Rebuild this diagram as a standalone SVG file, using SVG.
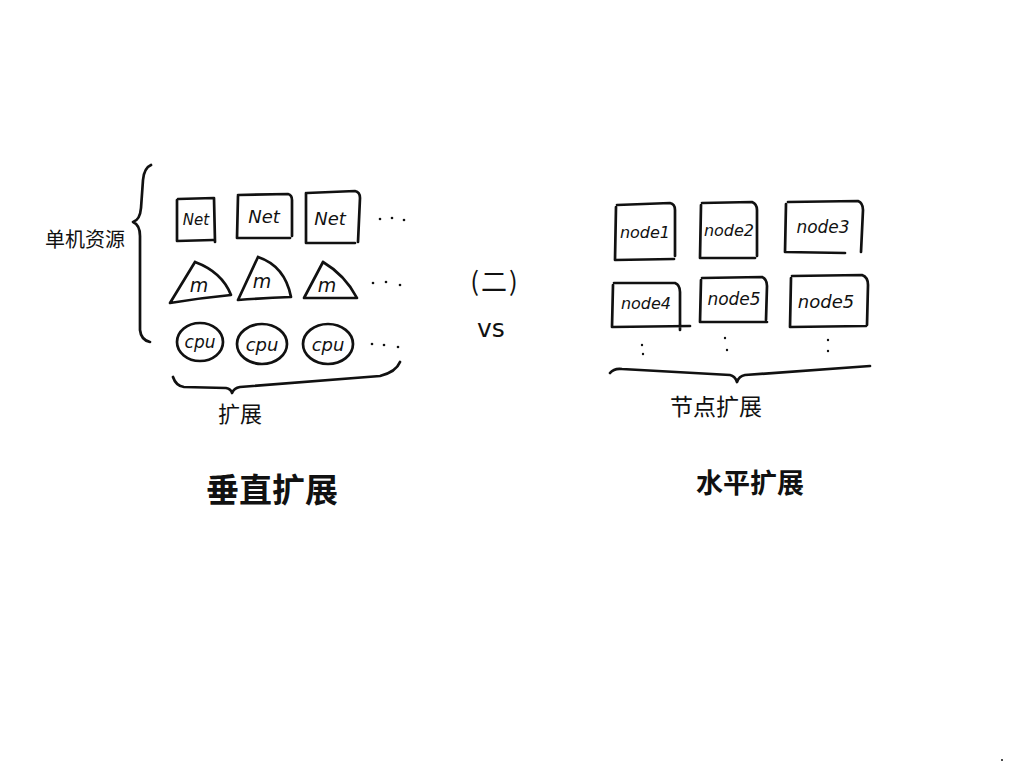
<svg xmlns="http://www.w3.org/2000/svg" width="1024" height="768" viewBox="0 0 1024 768">
<style>
.s{fill:none;stroke:#111;stroke-width:2.7;stroke-linecap:round;stroke-linejoin:round}
.t{font-family:"DejaVu Sans","Liberation Sans",sans-serif;font-style:italic;fill:#111;text-anchor:middle;dominant-baseline:central}
.u{font-family:"DejaVu Sans","Liberation Sans",sans-serif;fill:#111;text-anchor:middle;dominant-baseline:central}
.c{font-family:"Noto Sans CJK SC","Noto Sans CJK JP",sans-serif;fill:#111;text-anchor:middle;dominant-baseline:central}
.d{fill:#111}
</style>
<rect width="1024" height="768" fill="#fff"/>
<g id="braces">
<path class="s" d="M151,165 Q144,168 143,180 L141,208 Q140,220 133,222 Q140,225 140,236 L140,330 Q141,340 150,342"/>
<path class="s" d="M173,377 Q176,386 184,387 L226,388 Q231,389 232,393 Q234,388 240,387 L380,376 Q396,372 400,362"/>
<path class="s" d="M610,373 Q614,368 622,369 L730,375 Q735,376 737,382 Q739,376 745,375 L870,366"/>
</g>
<g id="label-danji"><text class="c" x="85" y="238" font-size="20">单机资源</text></g>
<g id="net1"><path class="s" d="M177,200 L177,241 L213,240 M178,199 L214,198 L215,242"/><text class="t" x="196" y="220" font-size="15">Net</text></g>
<g id="net2"><path class="s" d="M238,196 L237,238 L290,238 M238,195 L288,194 Q292,195 292,200 L292,236"/><text class="t" x="264" y="216" font-size="18">Net</text></g>
<g id="net3"><path class="s" d="M306,193 L306,243 L355,243 M307,193 L355,191 Q360,192 360,198 L358,242"/><text class="t" x="330" y="218" font-size="18">Net</text></g>
<g id="dots-net"><circle class="d" cx="380" cy="219" r="1.3"/><circle class="d" cx="392" cy="218" r="1.3"/><circle class="d" cx="404" cy="220" r="1.3"/></g>
<g id="mem1"><path class="s" d="M195,262 L170,303 Q200,298 231,295 Q222,272 195,262"/><text class="t" x="199" y="285" font-size="19">m</text></g>
<g id="mem2"><path class="s" d="M258,257 L238,300 Q265,298 291,297 Q285,266 258,257"/><text class="t" x="262" y="281" font-size="19">m</text></g>
<g id="mem3"><path class="s" d="M323,262 L304,298 L357,298 Q345,275 323,262"/><text class="t" x="327" y="285" font-size="19">m</text></g>
<g id="dots-mem"><circle class="d" cx="373" cy="283" r="1.3"/><circle class="d" cx="386" cy="282" r="1.3"/><circle class="d" cx="400" cy="285" r="1.3"/></g>
<g id="cpu1"><ellipse class="s" cx="200" cy="342" rx="23" ry="19"/><text class="t" x="200" y="342" font-size="17">cpu</text></g>
<g id="cpu2"><ellipse class="s" cx="262" cy="344" rx="25" ry="20"/><text class="t" x="262" y="344" font-size="18">cpu</text></g>
<g id="cpu3"><ellipse class="s" cx="328" cy="344" rx="25" ry="20"/><text class="t" x="328" y="344" font-size="18">cpu</text></g>
<g id="dots-cpu"><circle class="d" cx="372" cy="344" r="1.3"/><circle class="d" cx="384" cy="345" r="1.3"/><circle class="d" cx="398" cy="347" r="1.3"/></g>
<g id="label-kuozhan"><text class="c" x="240" y="412" font-size="22">扩展</text></g>
<g id="label-vs"><text class="c" x="495" y="279" font-size="26" letter-spacing="2">(二)</text><text class="u" x="491" y="328" font-size="25">vs</text></g>
<g id="node1"><path class="s" d="M616,207 L615,260 L674,259 M617,205 L670,203 Q675,204 675,210 L675,256"/><text class="t" x="645" y="232" font-size="16">node1</text></g>
<g id="node2"><path class="s" d="M701,205 L700,258 L755,258 M702,203 L752,202 Q757,204 757,210 L757,256"/><text class="t" x="729" y="230" font-size="16">node2</text></g>
<g id="node3"><path class="s" d="M786,204 L785,252 L845,253 M788,202 L858,201 Q863,203 863,210 L861,252"/><text class="t" x="823" y="227" font-size="17">node3</text></g>
<g id="node4"><path class="s" d="M613,285 L612,327 L690,326 M614,283 L675,283 Q680,285 680,292 L680,330"/><text class="t" x="646" y="303" font-size="16">node4</text></g>
<g id="node5"><path class="s" d="M701,280 L700,322 L767,322 M702,278 L762,277 Q767,279 767,286 L766,320"/><text class="t" x="734" y="299" font-size="17">node5</text></g>
<g id="node5b"><path class="s" d="M791,278 L790,327 L866,326 M792,276 L862,275 Q868,277 868,285 L867,325"/><text class="t" x="826" y="301" font-size="18">node5</text></g>
<g id="dots-nodes"><circle class="d" cx="642" cy="345" r="1.2"/><circle class="d" cx="643" cy="354" r="1.2"/><circle class="d" cx="725" cy="338" r="1.2"/><circle class="d" cx="727" cy="350" r="1.2"/><circle class="d" cx="828" cy="340" r="1.2"/><circle class="d" cx="828" cy="351" r="1.2"/></g>
<g id="label-jiedian"><text class="c" x="716" y="405" font-size="23">节点扩展</text></g>
<g id="label-chuizhi"><text class="c" x="272" y="488" font-size="33" font-weight="bold">垂直扩展</text></g>
<g id="label-shuiping"><text class="c" x="750" y="481" font-size="27" font-weight="bold">水平扩展</text></g>
<circle class="d" cx="1002" cy="760" r="1"/>
</svg>
